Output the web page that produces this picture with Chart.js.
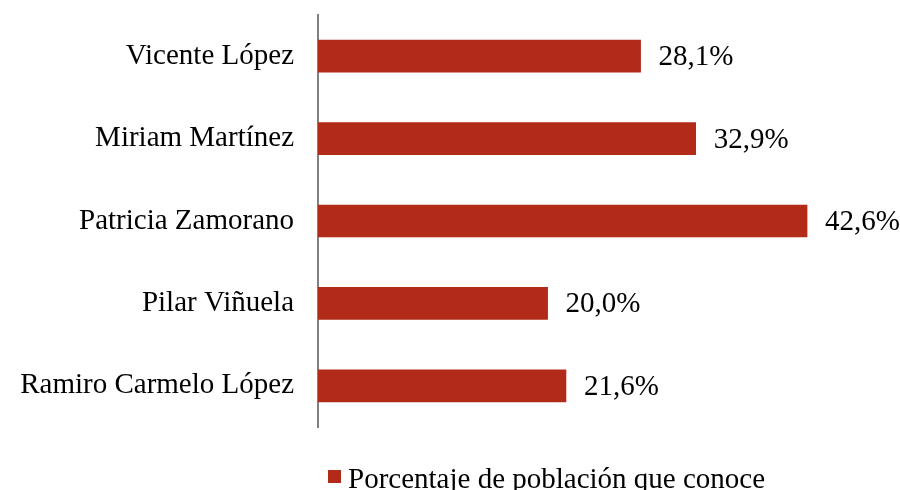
<!DOCTYPE html>
<html>
<head>
<meta charset="utf-8">
<script src="https://cdn.jsdelivr.net/npm/chart.js@4.4.1/dist/chart.umd.min.js"></script>
<style>
    html, body { margin: 0; padding: 0; background: #ffffff; }
    #wrap { width: 900px; height: 490px; }
</style>
</head>
<body>
<div id="wrap"><canvas id="myChart" width="900" height="490"></canvas></div>
<script>
// Chart data
const categories = ['Vicente López', 'Miriam Martínez', 'Patricia Zamorano', 'Pilar Viñuela', 'Ramiro Carmelo López'];
const values = [28.1, 32.9, 42.6, 20.0, 21.6];
const seriesLabel = 'Porcentaje de población que conoce';

const barColor = '#B22B19';
const fontFamily = "'Liberation Serif', 'DejaVu Serif', serif";
const fontSize = 29;

function fmt(v) {
    return v.toFixed(1).replace('.', ',') + '%';
}

// Value labels at the end of each bar
const valueLabels = {
    id: 'valueLabels',
    afterDatasetsDraw(chart) {
        const ctx = chart.ctx;
        const meta = chart.getDatasetMeta(0);
        ctx.save();
        ctx.font = fontSize + 'px ' + fontFamily;
        ctx.fillStyle = '#000000';
        ctx.textAlign = 'left';
        ctx.textBaseline = 'alphabetic';
        meta.data.forEach((bar, i) => {
            ctx.fillText(fmt(values[i]), bar.x + 18, bar.y + 9);
        });
        ctx.restore();
    }
};

// Legend drawn under the plot
const bottomLegend = {
    id: 'bottomLegend',
    afterDraw(chart) {
        const ctx = chart.ctx;
        ctx.save();
        ctx.fillStyle = barColor;
        ctx.fillRect(328, 470, 13, 13);
        ctx.font = fontSize + 'px ' + fontFamily;
        ctx.fillStyle = '#000000';
        ctx.textBaseline = 'alphabetic';
        ctx.fillText(chart.data.datasets[0].label, 348, 488);
        ctx.restore();
    }
};

new Chart(document.getElementById('myChart').getContext('2d'), {
    type: 'bar',
    data: {
        labels: categories,
        datasets: [{
            label: seriesLabel,
            data: values,
            backgroundColor: barColor,
            borderWidth: 0,
            barThickness: 32
        }]
    },
    options: {
        indexAxis: 'y',
        responsive: false,
        animation: false,
        layout: {
            padding: { top: 15, bottom: 63, left: 0, right: 8 }
        },
        plugins: {
            legend: { display: false },
            tooltip: { enabled: false }
        },
        scales: {
            x: {
                display: false,
                min: 0,
                max: 50
            },
            y: {
                afterFit: function(scale) {
                    scale.width = 318;
                    scale.paddingTop = 0;
                    scale.paddingBottom = 0;
                },
                grid: { display: false, drawTicks: false },
                border: { display: true, color: '#808080', width: 2 },
                ticks: {
                    padding: 24,
                    color: '#000000',
                    font: { family: fontFamily, size: fontSize }
                }
            }
        }
    },
    plugins: [valueLabels, bottomLegend]
});
</script>
</body>
</html>
